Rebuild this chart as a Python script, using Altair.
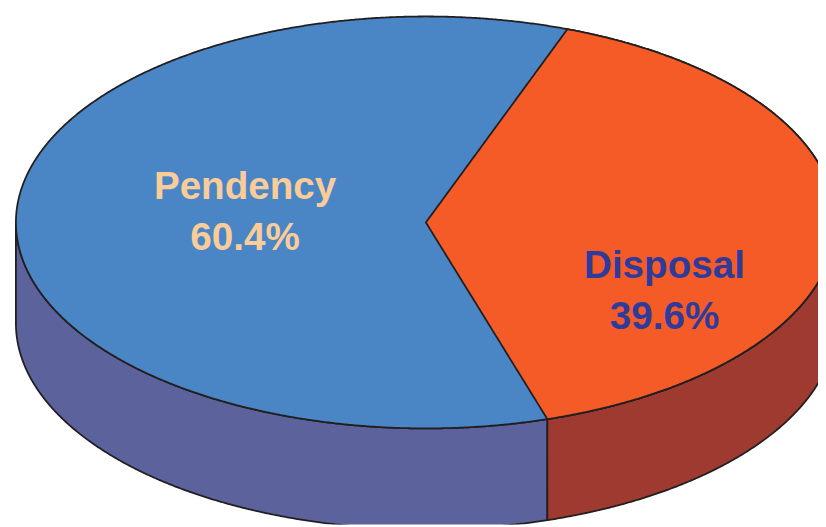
import numpy as np
import pandas as pd
import altair as alt

# ---- values
categories = ["Pendency", "Disposal"]
shares = [60.4, 39.6]
share_labels = ["60.4%", "39.6%"]
top_colors = ["#4A86C5", "#F45B27"]
side_colors = ["#5B629C", "#9E3A30"]
text_colors = ["#F9CC99", "#2E3B9C"]

# ---- layout of the tilted pie (in page pixels)
CX, CY, RX, RY = 430.0, 222.0, 414.0, 208.0
DEPTH = 102.0 / RY              # thickness of the rim, in radius units
START_DEG = 69.8                # where Disposal begins, counter-clockwise from +x
STROKE = "#231F20"
W, H = 818, 519                 # page x 8..826, y 8..527

x_domain = [(8 - CX) / RX, (8 + W - CX) / RX]
y_domain = [(CY - 8 - H) / RY, (CY - 8) / RY]
x_scale = alt.Scale(domain=x_domain, nice=False, zero=False)
y_scale = alt.Scale(domain=y_domain, nice=False, zero=False)

# The divider directions follow from the shares
a_top = np.radians(START_DEG)
a_bot = a_top - np.radians(shares[1] * 3.6)
xt, yt = np.cos(a_top), np.sin(a_top)
xb, yb = np.cos(a_bot), np.sin(a_bot)

grid = np.cos(np.linspace(0, np.pi, 721))


def rim(x):
    return np.sqrt(np.clip(1 - x * x, 0, None))


def xs(lo, hi, *extra):
    v = np.concatenate([grid[(grid > lo) & (grid < hi)], [lo, hi], extra])
    return np.unique(v)


def frame(x, upper, lower):
    return pd.DataFrame({"x": x, "y": upper, "y2": lower})


# rim (front side) pieces
x = xs(-1, xb)
side_pendency = frame(x, -rim(x), -rim(x) - DEPTH)
x = xs(xb, 1)
side_disposal = frame(x, -rim(x), -rim(x) - DEPTH)

# top faces: the Pendency colour fills the whole disc, Disposal's sector lies over it
x = xs(-1, 1)
top_pendency = frame(x, rim(x), -rim(x))

x = xs(0.0, 1, xt, xb)
up = np.where(x <= xt, x * yt / xt, rim(x))
low = np.where(x <= xb, x * yb / xb, -rim(x))
top_disposal = frame(x, up, low)


def piece(df, color):
    return (
        alt.Chart(df)
        .mark_area(color=color, stroke=STROKE, strokeWidth=1.8, strokeJoin="round", clip=True, opacity=1)
        .encode(
            x=alt.X("x:Q", scale=x_scale, axis=None),
            y=alt.Y("y:Q", scale=y_scale, axis=None),
            y2="y2:Q",
        )
    )


# label anchors in radius units
label_x = [-0.441, 0.582]
name_y = [0.115, -0.269]
share_y = [-0.135, -0.519]

labels = pd.DataFrame(
    {
        "text": categories + share_labels,
        "x": label_x + label_x,
        "y": name_y + share_y,
        "color": text_colors + text_colors,
    }
)
text = (
    alt.Chart(labels)
    .mark_text(font="Liberation Sans", fontWeight="bold", fontSize=39, align="center", baseline="alphabetic")
    .encode(
        x=alt.X("x:Q", scale=x_scale, axis=None),
        y=alt.Y("y:Q", scale=y_scale, axis=None),
        text="text:N",
        color=alt.Color("color:N", scale=None, legend=None),
    )
)

chart = (
    alt.layer(
        piece(side_pendency, side_colors[0]),
        piece(side_disposal, side_colors[1]),
        piece(top_pendency, top_colors[0]),
        piece(top_disposal, top_colors[1]),
        text,
    )
    .properties(width=W, height=H, padding=0, autosize=alt.AutoSizeParams(type="none"), background="white")
    .configure_view(stroke=None)
)

chart.save("out.html", embed_options={"renderer": "svg", "actions": False})
